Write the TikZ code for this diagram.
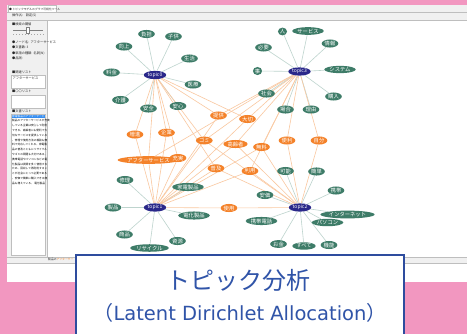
\documentclass[tikz,border=0pt]{standalone}
\usepackage{fontspec}
\setmainfont{Noto Sans CJK JP}
\newfontfamily\latinfont{DejaVu Sans}
\usetikzlibrary{shapes.geometric}
\definecolor{pinkbg}{RGB}{242,151,192}
\definecolor{panelgray}{RGB}{240,240,240}
\definecolor{linegray}{RGB}{190,190,190}
\definecolor{gnode}{RGB}{62,124,104}
\definecolor{onode}{RGB}{244,130,42}
\definecolor{tnode}{RGB}{42,40,138}
\definecolor{gedgec}{RGB}{190,212,206}
\definecolor{oedgec}{RGB}{250,200,160}
\definecolor{boxblue}{RGB}{46,76,158}
\definecolor{textblue}{RGB}{48,84,168}
\definecolor{selblue}{RGB}{51,140,240}
\pgfdeclarelayer{back}
\pgfdeclarelayer{edges}
\pgfsetlayers{back,edges,main}
\tikzset{
  wnode/.style={ellipse,inner xsep=0.6pt,inner ysep=0.4pt,text=white,font=\fontsize{5.3}{5.5}\selectfont},
  gn/.style={wnode,fill=gnode},
  on/.style={wnode,fill=onode},
  tn/.style={wnode,fill=tnode,font=\fontsize{5}{5.5}\selectfont},
  gedge/.style={draw=gedgec,line width=0.6pt},
  oedge/.style={draw=oedgec,line width=0.6pt},
  tiny/.style={inner sep=0pt,anchor=west,font=\fontsize{3.2}{3.5}\selectfont,text=black!85},
  doc/.style={inner sep=0pt,anchor=west,font=\fontsize{2.7}{3}\selectfont,text=black},
  listbox/.style={draw=linegray,fill=white,line width=0.4pt}
}
\begin{document}
\begin{tikzpicture}[x=1pt,y=-1pt]
\useasboundingbox (0,0) rectangle (467,333);
\begin{pgfonlayer}{back}
\fill[pinkbg] (0,0) rectangle (467,340);
\fill[white] (7,5) rectangle (467,282);
\fill[panelgray] (7,5) rectangle (467,20);
\draw[linegray,line width=0.4pt] (7,12.5) -- (467,12.5);
\draw[linegray,fill=white,line width=0.4pt] (8,5.5) rectangle (56,12.5);
\fill[panelgray] (7,20) rectangle (47,257);
\draw[linegray,line width=0.6pt] (7,20) -- (467,20);
\draw[linegray,line width=0.6pt] (47,20) -- (47,257);
\fill[panelgray] (7,257) rectangle (467,263);
\draw[linegray,line width=0.6pt] (7,257) -- (467,257);
\draw[linegray,line width=0.6pt] (7,263) -- (467,263);
% slider
\draw[gray,line width=0.5pt] (13,30) -- (43,30);
\fill[white,draw=gray,line width=0.3pt] (26.5,27.5) rectangle (29.5,33);
\foreach \k in {0,...,10} {\draw[gray!70,line width=0.2pt] (13+3*\k,34) -- (13+3*\k,35.2);}
% list boxes
\draw[listbox] (11,75) rectangle (45,88);
\draw[listbox] (11,95) rectangle (45,108);
\draw[listbox] (11,114) rectangle (45,255);
\fill[selblue] (11.5,114.5) rectangle (44.5,117.5);
\end{pgfonlayer}

% window texts
\node[tiny,font=\fontsize{2.8}{3}\selectfont] (ttl) at (9,9) {● トピックモデルのグラフ可視化ツール};
\node[tiny] (menu) at (12,15.7) {操作(A)\quad 設定(S)};
\node[tiny] (l1) at (12,24.5) {■検索の閾値};
\node[tiny] (l2) at (12,42) {●ノード名:\ \ アフターサービス};
\node[tiny] (l3) at (12,47.5) {●文書数:\ 3};
\node[tiny] (l4) at (12,53) {●単語の種類:\ \ 名詞(N)};
\node[tiny] (l5) at (12,58.5) {●品詞:};
\node[tiny] (l6) at (12,72) {■関連リスト};
\node[tiny] (l7) at (12.5,78) {アフターサービス};
\node[tiny] (l8) at (12,91.5) {■〇〇リスト};
\node[tiny] (l9) at (12,111) {■文書リスト};
\node[doc,text=white] (d0) at (12,116) {家電製品のアフターサービス};
\foreach \i/\s in {1/製品のアフターサービスが充実,2/している企業は安心して利用,3/できる。高齢者にも便利で大,4/切なサービスを提供している,5/。修理や使用方法の相談も無,6/料で対応してくれる。家電製,7/品の普及とともにリサイクル,8/やゴミの問題も大切である。,9/携帯電話やパソコンなどの電,10/化製品は資源を多く使用する,11/ため、回収して再利用するこ,12/とが社会にとって必要である,13/。安価で簡単に購入できる商,14/品も増えている。\ 電化製品}
  {\node[doc] (d\i) at (12,116+4.8*\i) {\s};}
\node[tiny,font=\fontsize{2.8}{3}\selectfont] (st) at (48,259.8) {製品の\textcolor{onode}{アフターサー}};

% topic nodes
\node[tn] (t0) at (155,75) {topic0};
\node[tn] (t1) at (155,207.5) {topic1};
\node[tn] (t2) at (300,207.5) {topic2};
\node[tn] (t3) at (299.5,71.5) {topic3};
% topic0 words
\node[gn] (futan) at (146.5,34) {負担};
\node[gn] (kodomo) at (173.5,36.5) {子供};
\node[gn] (kojo) at (124,46.5) {向上};
\node[gn] (seikatsu) at (189.5,58.5) {生活};
\node[gn] (ryokin) at (111.5,72.5) {料金};
\node[gn] (iryo) at (193,84.5) {医療};
\node[gn] (kaigo) at (120.5,100) {介護};
\node[gn] (anzen) at (148.5,108.5) {安全};
\node[gn] (anshin) at (178,106) {安心};
% topic3 words
\node[gn] (hito) at (282.5,31.5) {人};
\node[gn] (service) at (308,31) {サービス};
\node[gn] (hitsuyo) at (263.5,47.5) {必要};
\node[gn] (joho) at (330,43.5) {情報};
\node[gn] (koto) at (257.5,71) {事};
\node[gn] (system) at (340,69.5) {システム};
\node[gn] (shakai) at (266.5,93.5) {社会};
\node[gn] (konyu) at (333.5,96.5) {購入};
\node[gn] (baai) at (285.5,109.5) {場合};
\node[gn] (riyu) at (311,109.5) {理由};
% topic2 words
\node[gn] (kano) at (285.5,171) {可能};
\node[gn] (kantan) at (316.5,171.5) {簡単};
\node[gn] (keitai) at (336,190.5) {携帯};
\node[gn] (anka) at (265,195) {安価};
\node[gn] (internet) at (347.5,214.5) {インターネット};
\node[gn] (pasokon) at (327.5,222.5) {パソコン};
\node[gn] (keitaidenwa) at (261.5,221) {携帯電話};
\node[gn] (okane) at (278.5,244) {お金};
\node[gn] (subete) at (304,246) {すべて};
\node[gn] (kino) at (329,245) {機能};
% topic1 words
\node[gn] (shuri) at (125,180) {修理};
\node[gn] (kaden) at (188,187) {家電製品};
\node[gn] (seihin) at (113,207.5) {製品};
\node[gn] (denka) at (194,215.5) {電化製品};
\node[gn] (shohin) at (124.5,234.5) {商品};
\node[gn] (shigen) at (177.5,241) {資源};
\node[gn] (recycle) at (149.5,248) {リサイクル};
% shared words
\node[on] (teikyo) at (218.5,115.5) {提供};
\node[on] (taisetsu) at (247.5,119) {大切};
\node[on] (zoshin) at (135,134.5) {増進};
\node[on] (kigyo) at (166.5,132.7) {企業};
\node[on] (gomi) at (204.3,140.5) {ゴミ};
\node[on] (koreisha) at (235.5,144) {高齢者};
\node[on] (muryo) at (261.5,147) {無料};
\node[on] (benri) at (287,140.5) {便利};
\node[on] (jibun) at (319,140.5) {自分};
\node[on] (after) at (148.5,160) {アフターサービス};
\node[on] (jujitsu) at (178,158) {充実};
\node[on] (fukyu) at (216,168.3) {普及};
\node[on] (riyo) at (250,171) {利用};
\node[on] (shiyo) at (229,208) {使用};

\begin{pgfonlayer}{edges}
\foreach \w in {futan,kodomo,kojo,seikatsu,ryokin,iryo,kaigo,anzen,anshin} \draw[gedge] (t0) -- (\w);
\foreach \w in {hito,service,hitsuyo,joho,koto,system,shakai,konyu,baai,riyu} \draw[gedge] (t3) -- (\w);
\foreach \w in {kano,kantan,keitai,anka,internet,pasokon,keitaidenwa,okane,subete,kino} \draw[gedge] (t2) -- (\w);
\foreach \w in {shuri,kaden,seihin,denka,shohin,shigen,recycle} \draw[gedge] (t1) -- (\w);
\foreach \t/\w in {t0/teikyo,t1/teikyo,t3/teikyo,
  t0/taisetsu,t1/taisetsu,t3/taisetsu,
  t0/zoshin,t1/zoshin,t0/kigyo,t1/kigyo,t0/after,t1/after,t3/after,
  t0/jujitsu,t1/jujitsu,t0/gomi,t1/gomi,t2/gomi,t3/gomi,
  t1/koreisha,t2/koreisha,t3/koreisha,
  t1/muryo,t2/muryo,t3/muryo,
  t0/fukyu,t1/fukyu,t2/fukyu,
  t1/riyo,t2/riyo,t3/riyo,
  t2/benri,t3/benri,t2/jibun,t3/jibun,t1/shiyo,t2/shiyo}
  \draw[oedge] (\t) -- (\w);
\end{pgfonlayer}

% caption box
\node[draw=boxblue,line width=2pt,fill=white,minimum width=328pt,minimum height=95pt,anchor=north west,inner sep=0pt] (cap) at (75,253.5) {};
\node[text=textblue,font=\fontsize{24}{26}\selectfont,inner sep=0pt] (capt) at (238.5,280) {トピック分析};
\node[text=textblue,font=\fontsize{20}{22}\selectfont,inner sep=0pt] (caps) at (240,313) {（{\latinfont\fontsize{19.5}{22}\selectfont Latent Dirichlet Allocation}）};
\end{tikzpicture}
\end{document}
